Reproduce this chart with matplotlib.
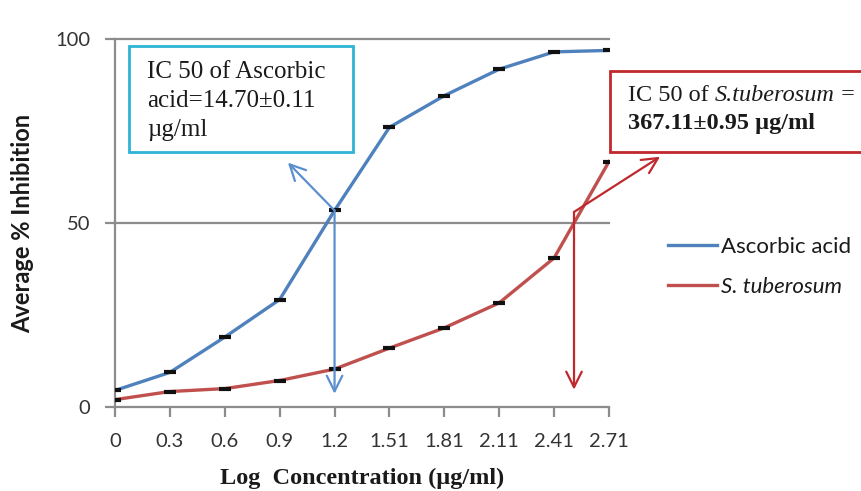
import numpy as np
import matplotlib
matplotlib.use("Agg")
import matplotlib.pyplot as plt
from matplotlib.patches import Rectangle

# Log concentration categories (µg/ml)
log_conc = ["0", "0.3", "0.6", "0.9", "1.2", "1.51", "1.81", "2.11", "2.41", "2.71"]

# Average % inhibition
ascorbic = [4.5, 9.4, 19.0, 29.2, 53.4, 76.0, 84.6, 91.8, 96.5, 96.9]
tuberosum = [2.0, 4.2, 5.0, 7.2, 10.3, 16.0, 21.5, 28.3, 40.5, 66.7]

series_names = ["Ascorbic acid", "S. tuberosum"]
y_ticks = [0, 50, 100]

blue = "#4f81bd"
red = "#c0504d"
arrow_blue = "#5b8fcf"
arrow_red = "#c0282d"
grey = "#8c8c8c"

W, H = 861, 491
fig = plt.figure(figsize=(W / 100, H / 100), dpi=100)
fig.patch.set_facecolor("white")

def px(x, y):
    return x / W, 1 - y / H

ax = fig.add_axes([115 / W, 1 - 407 / H, (609 - 115) / W, (407 - 39) / H])
x = np.arange(len(log_conc))

ax.plot(x, ascorbic, color=blue, lw=2.4, label=series_names[0], zorder=3)
ax.plot(x, tuberosum, color=red, lw=2.4, label=series_names[1], zorder=3)
ax.plot(x, ascorbic, ls="none", marker="_", ms=8, mew=3, color="#111111", zorder=4)
ax.plot(x, tuberosum, ls="none", marker="_", ms=8, mew=3, color="#111111", zorder=4)

ax.set_xlim(0, len(log_conc) - 1)
ax.set_ylim(0, 100)
ax.set_xticks(x)
ax.set_xticklabels(log_conc)
ax.set_yticks(y_ticks)
ax.set_yticklabels([str(v) for v in y_ticks])

for v in y_ticks[1:]:
    ax.axhline(v, color=grey, lw=1.6, zorder=1, clip_on=False)

for s in ["top", "right"]:
    ax.spines[s].set_visible(False)
for s in ["left", "bottom"]:
    ax.spines[s].set_color(grey)
    ax.spines[s].set_linewidth(1.6)

ax.tick_params(axis="both", colors=grey, length=7, width=1.6, direction="out",
               labelsize=14.5, labelcolor="#333333")
ax.tick_params(axis="x", pad=12)
ax.tick_params(axis="y", pad=11)
for lab in ax.get_xticklabels() + ax.get_yticklabels():
    lab.set_fontfamily("Lato")

ax.set_ylabel("Average % Inhibition", fontfamily="Lato", fontweight="bold",
              fontsize=17, color="#1a1a1a")
ax.yaxis.set_label_coords(-(115 - 34) / (609 - 115), 0.5)
ax.set_xlabel("Log  Concentration (µg/ml)", fontfamily="Liberation Serif",
              fontweight="bold", fontsize=17.5, color="#1a1a1a")
ax.xaxis.set_label_coords((362 - 115) / (609 - 115), -(468 - 407) / (407 - 39))

# IC50 arrows for ascorbic acid (from the 1.2 point)
i_a = log_conc.index("1.2")
ax.annotate("", xy=(i_a, 3.6), xytext=(i_a, ascorbic[i_a]),
            arrowprops=dict(arrowstyle="->", color=arrow_blue, lw=1.6,
                            mutation_scale=28, shrinkA=0, shrinkB=0), zorder=5)
ax.annotate("", xy=(3.15, 66.4), xytext=(i_a, ascorbic[i_a]),
            arrowprops=dict(arrowstyle="->", color=arrow_blue, lw=1.6,
                            mutation_scale=28, shrinkA=0, shrinkB=0), zorder=5)

# IC50 arrows for S. tuberosum (at 50 % inhibition)
x50 = np.interp(50, tuberosum, x)
ax.annotate("", xy=(x50, 4.7), xytext=(x50, 53),
            arrowprops=dict(arrowstyle="->", color=arrow_red, lw=1.6,
                            mutation_scale=28, shrinkA=0, shrinkB=0), zorder=5)
ax.annotate("", xy=(9.93, 68), xytext=(x50, 53), annotation_clip=False,
            arrowprops=dict(arrowstyle="->", color=arrow_red, lw=1.6,
                            mutation_scale=28, shrinkA=0, shrinkB=0), zorder=5)

# Text boxes
x0, y1 = px(129, 152)
fig.add_artist(Rectangle((x0, y1), 224 / W, 106 / H, transform=fig.transFigure,
                         fill=True, facecolor="white", edgecolor="#2fb3d6", lw=2))
fig.text(*px(147, 61), "IC 50 of Ascorbic\nacid=14.70±0.11\nµg/ml",
         fontfamily="Liberation Serif", fontsize=18, va="top", ha="left",
         linespacing=1.4, color="#1a1a1a")

x0, y1 = px(610, 152)
fig.add_artist(Rectangle((x0, y1), 300 / W, 81 / H, transform=fig.transFigure,
                         fill=True, facecolor="white", edgecolor=arrow_red, lw=2))

# First line of the red box: regular / italic / regular pieces side by side
renderer = fig.canvas.get_renderer()
cursor = 628
for piece, style in [("IC 50 of ", "normal"), ("S.tuberosum", "italic"), (" =", "normal")]:
    t = fig.text(*px(cursor, 101), piece, fontfamily="Liberation Serif",
                 fontstyle=style, fontsize=17.5, va="baseline", ha="left",
                 color="#1a1a1a")
    cursor = t.get_window_extent(renderer).x1
fig.text(*px(628, 129), "367.11±0.95 µg/ml", fontfamily="Liberation Serif",
         fontweight="bold", fontsize=17.5, va="baseline", ha="left", color="#1a1a1a")

leg = fig.legend(loc="upper left", bbox_to_anchor=px(661, 230), frameon=False,
                 handlelength=2.2, handletextpad=0.22, labelspacing=0.9,
                 borderpad=0.3, borderaxespad=0,
                 prop={"family": "Lato", "size": 16})
leg.get_texts()[1].set_fontstyle("italic")
for t in leg.get_texts():
    t.set_color("#1a1a1a")

fig.savefig("out.png", dpi=100, facecolor="white")
